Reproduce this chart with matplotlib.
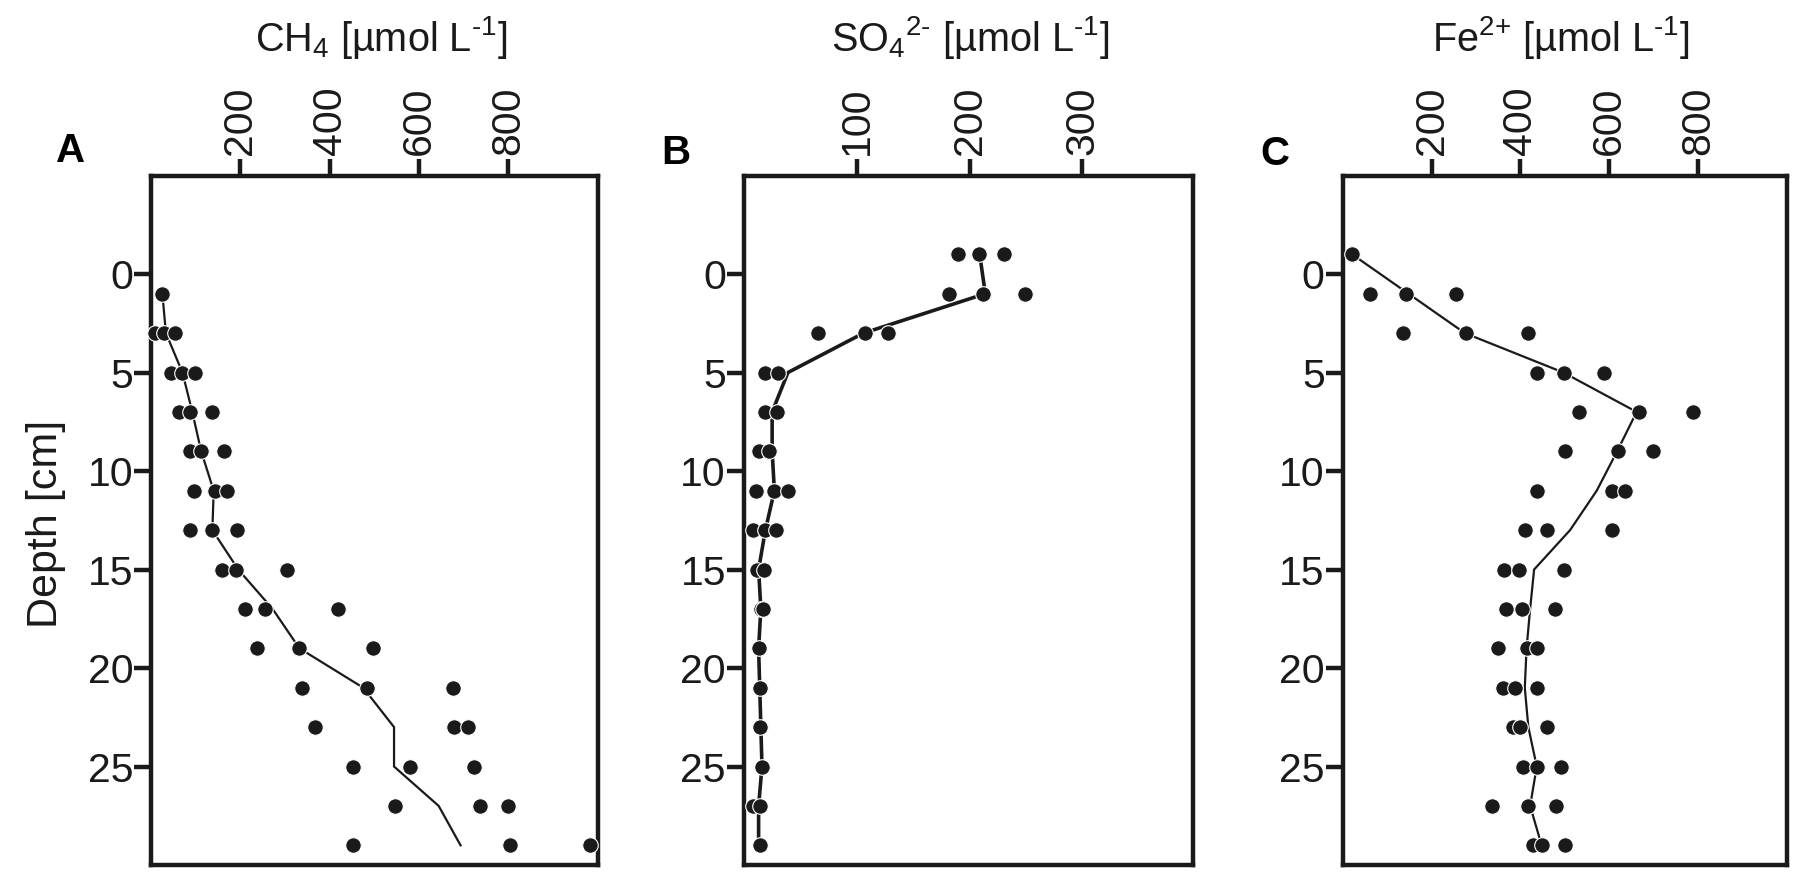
import numpy as np
import matplotlib
matplotlib.use("Agg")
import matplotlib.pyplot as plt

plt.rcParams["font.family"] = ["Liberation Sans", "DejaVu Sans"]
plt.rcParams["mathtext.fontset"] = "custom"
plt.rcParams["mathtext.rm"] = "Liberation Sans"
plt.rcParams["mathtext.it"] = "Liberation Sans"

nan = np.nan

# ── Data (depth in cm, concentrations in µmol/L) ──────────────────────────────

depth_ch4 = [1, 3, 5, 7, 9, 11, 13, 15, 17, 19, 21, 23, 25, 27, 29]
ch4_rep1 = [25, 8, 44, 62, 86, 96, 88, 158, 210, 237, 338, 368, 453, 546, 453]
ch4_rep2 = [nan, 29, 70, 88, 112, 144, 137, 189, 255, 332, 483, 678, 579, 736, 803]
ch4_rep3 = [nan, 54, 99, 137, 164, 170, 193, 304, 419, 496, 675, 710, 724, 800, 983]
ch4_line = [25, 33, 70, 92, 112, 140, 137, 195, 272, 332, 475, 544, 544, 644, 693]

depth_so4 = [-1, 1, 3, 5, 7, 9, 11, 13, 15, 17, 19, 21, 23, 25, 27, 29]
so4_rep1 = [190, 182, 66, 19, 19, 13, 11, 8, 12, 15, 13, 14, 14, 16, 8, 14]
so4_rep2 = [208, 212, 107, 30, 29, 22, 27, 19, 18, 17, nan, nan, nan, nan, 14, nan]
so4_rep3 = [231, 249, 128, nan, nan, nan, 39, 28, nan, nan, nan, nan, nan, nan, nan, nan]
so4_line = [209, 214, 106, 39, 25, 25, 27, 19, 13, 15, 13, 14, 15, 16, 13, 13]

depth_fe = [-1, 1, 3, 5, 7, 9, 11, 13, 15, 17, 19, 21, 23, 25, 27, 29]
fe_rep1 = [21, 61, 135, 438, 533, 501, 438, 411, 364, 368, 350, 362, 383, 407, 336, 428]
fe_rep2 = [nan, 142, 278, 498, 667, 619, 606, 459, 397, 403, 414, 388, 399, 438, 417, 449]
fe_rep3 = [nan, 254, 417, 589, 788, 698, 636, 606, 498, 477, 438, 438, 459, 491, 480, 501]
fe_line = [21, 148, 275, 497, 662, 618, 572, 512, 431, 422, 414, 410, 418, 437, 422, 448]

depth_ticks = [0, 5, 10, 15, 20, 25]

HY = "\u2010"  # plain hyphen, the original uses a short dash in the exponents
UNIT = " [µmol L$^{" + HY + "1}$]"

PANELS = [
    dict(letter="A", title="CH$_4$" + UNIT, depth=depth_ch4,
         reps=[ch4_rep1, ch4_rep2, ch4_rep3], line=ch4_line,
         xlim=(0, 1000), xticks=[200, 400, 600, 800],
         pos=[0.084, 0.0114, 0.248, 0.788], lw=1.6, title_x=0.515,
         letter_xy=(0.039, 0.828)),
    dict(letter="B", title="SO$_4$$^{2" + HY + "}$" + UNIT, depth=depth_so4,
         reps=[so4_rep1, so4_rep2, so4_rep3], line=so4_line,
         xlim=(0, 398), xticks=[100, 200, 300],
         pos=[0.4133, 0.0114, 0.2494, 0.788], lw=2.6, title_x=0.505,
         letter_xy=(0.3756, 0.825)),
    dict(letter="C", title="Fe$^{2{+}}$" + UNIT, depth=depth_fe,
         reps=[fe_rep1, fe_rep2, fe_rep3], line=fe_line,
         xlim=(0, 1000), xticks=[200, 400, 600, 800],
         pos=[0.746, 0.0114, 0.2466, 0.788], lw=1.6, title_x=0.49,
         letter_xy=(0.708, 0.824)),
]

INK = "#1a1a1a"

fig = plt.figure(figsize=(18, 8.75), dpi=100)

for p in PANELS:
    ax = fig.add_axes(p["pos"])

    ax.plot(p["line"], p["depth"], color=INK, lw=p["lw"], zorder=2,
            solid_joinstyle="miter")
    for rep in p["reps"]:
        ax.plot(rep, p["depth"], linestyle="none", marker="o", markersize=11.2,
                markerfacecolor=INK, markeredgecolor="white",
                markeredgewidth=0.8, zorder=3, clip_on=False)

    ax.set_xlim(*p["xlim"])
    ax.set_ylim(30, -5)
    ax.set_xticks(p["xticks"])
    ax.set_yticks(depth_ticks)
    ax.xaxis.tick_top()
    ax.tick_params(axis="x", which="both", top=True, bottom=False,
                   labeltop=True, labelbottom=False, labelrotation=90,
                   length=12, width=3.2, pad=3, labelsize=29.5, colors=INK)
    ax.tick_params(axis="y", which="both", left=True, right=False,
                   length=12, width=3.2, pad=1, labelsize=29.5, colors=INK)
    for s in ax.spines.values():
        s.set_linewidth(3.2)
        s.set_color(INK)

    ax.text(p["title_x"], 1.20, p["title"], transform=ax.transAxes,
            ha="center", va="center", fontsize=28.5, color=INK)
    fig.text(p["letter_xy"][0], p["letter_xy"][1], p["letter"],
             ha="center", va="center", fontsize=29, fontweight="bold",
             color="black")

fig.text(0.0256, 0.401, "Depth [cm]", rotation=90, ha="center", va="center",
         fontsize=31, color=INK)

fig.savefig("out.png", dpi=100)
